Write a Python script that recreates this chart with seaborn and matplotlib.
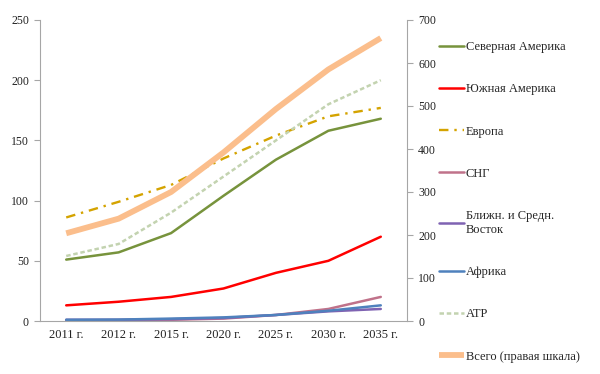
import matplotlib
matplotlib.use('Agg')
from matplotlib import pyplot as plt
import seaborn as sns
import pandas as pd

years = ['2011 г.', '2012 г.', '2015 г.', '2020 г.', '2025 г.', '2030 г.', '2035 г.']

north_america = [51, 57, 73, 104, 134, 158, 168]
south_america = [13, 16, 20, 27, 40, 50, 70]
europe = [86, 99, 113, 135, 154, 170, 177]
cis = [0.5, 0.7, 1, 2, 5, 10, 20]
middle_east = [1, 1, 1.5, 2.5, 5, 8, 10]
africa = [1, 1.2, 2, 3, 5, 8.5, 13]
apr = [54, 64, 90, 120, 150, 180, 200]
total = [204, 238, 300, 392, 493, 585, 658]

left_series = [
    ('Северная Америка', north_america, '#77933C', '-', 1.8),
    ('Южная Америка', south_america, '#FF0000', '-', 1.8),
    ('Европа', europe, '#D4A300', (0, (4, 2.5, 1, 2.5)), 1.7),
    ('СНГ', cis, '#C0728A', '-', 1.8),
    ('Ближн. и Средн.\nВосток', middle_east, '#7F63B2', '-', 1.8),
    ('Африка', africa, '#4F81BD', '-', 1.8),
    ('АТР', apr, '#C3D3B0', (0, (1.8, 1.1)), 1.8),
]

sns.set_style('white')
plt.rcParams['font.family'] = ['Liberation Serif', 'DejaVu Serif']

fig = plt.figure(figsize=(6, 3.74), dpi=100)
ax = fig.add_axes([40 / 600, 1 - 321 / 374, 367 / 600, 301 / 374])
ax2 = ax.twinx()

for name, vals, color, ls, lw in left_series:
    df = pd.DataFrame({'year': years, 'value': vals})
    sns.lineplot(data=df, x='year', y='value', ax=ax, color=color,
                 linestyle=ls, linewidth=lw, label=name, sort=False)

df_total = pd.DataFrame({'year': years, 'value': total})
sns.lineplot(data=df_total, x='year', y='value', ax=ax2, color='#FBBE8C',
             linewidth=4.2, label='Всего (правая шкала)', sort=False,
             solid_capstyle='butt')

ax.set_ylim(0, 250)
ax2.set_ylim(0, 700)
ax.set_xlim(-0.5, 6.5)
ax.set_yticks(range(0, 251, 50))
ax2.set_yticks(range(0, 701, 100))
ax.set_xlabel('')
ax.set_ylabel('')
ax2.set_ylabel('')

ax.set_xticks(range(7))
ax.set_xticklabels(years)
ax.set_xticks([i - 0.5 for i in range(8)], minor=True)

grey = '#A6A6A6'
for a in (ax, ax2):
    for s in a.spines.values():
        s.set_color(grey)
        s.set_linewidth(0.8)
    a.spines['top'].set_visible(False)
ax.spines['right'].set_visible(False)
ax2.spines['left'].set_visible(False)
ax2.spines['bottom'].set_visible(False)

ax.tick_params(axis='x', which='major', length=0, labelsize=9, pad=6, colors='#222222')
ax.tick_params(axis='x', which='minor', length=4, color=grey, width=0.8, direction='out')
ax.tick_params(axis='y', length=4, color=grey, width=0.8, direction='out',
               labelsize=8.5, labelcolor='#222222', pad=4, left=True)
ax2.tick_params(axis='y', length=4, color=grey, width=0.8, direction='out',
                labelsize=8.5, labelcolor='#222222', pad=4, right=True)

h1, l1 = ax.get_legend_handles_labels()
h2, l2 = ax2.get_legend_handles_labels()
ax.get_legend().remove()
ax2.get_legend().remove()
fig.legend(h1 + h2, l1 + l2, loc='upper left', bbox_to_anchor=(439 / 600, 1 - 41 / 374),
           frameon=False, fontsize=9, handlelength=2.0, handletextpad=0.15,
           labelspacing=2.42, borderpad=0, borderaxespad=0)

fig.savefig('out.png', dpi=100)
